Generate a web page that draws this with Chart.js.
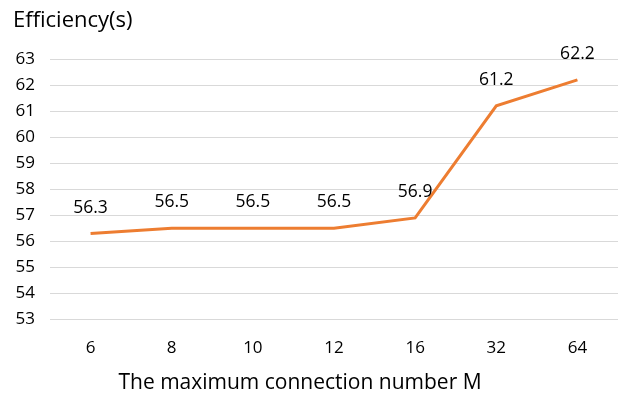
<!DOCTYPE html>
<html><head><meta charset="utf-8">
<script src="https://cdn.jsdelivr.net/npm/chart.js@4/dist/chart.umd.min.js"></script>
<style>html,body{margin:0;padding:0;background:#fff}#wrap{width:624px;height:397px}</style>
</head><body><div id="wrap"><canvas id="c" width="624" height="397"></canvas></div>
<script>
const categories = ['6','8','10','12','16','32','64'];
const efficiency = [56.3, 56.5, 56.5, 56.5, 56.9, 61.2, 62.2];
const yTitle = 'Efficiency(s)';
const xTitle = 'The maximum connection number M';
const FONT = '"Open Sans", Lato, sans-serif';

const labelsPlugin = {
  id: 'labelsPlugin',
  afterDatasetsDraw(chart) {
    const ctx = chart.ctx;
    const meta = chart.getDatasetMeta(0);
    ctx.save();
    ctx.fillStyle = '#000';
    ctx.font = '17.5px ' + FONT;
    ctx.textAlign = 'center';
    ctx.textBaseline = 'middle';
    meta.data.forEach((pt, i) => {
      ctx.fillText(efficiency[i].toFixed(1), pt.x, pt.y - 26);
    });
    ctx.restore();
  },
  afterDraw(chart) {
    const ctx = chart.ctx;
    ctx.save();
    ctx.fillStyle = '#000';
    ctx.textBaseline = 'alphabetic';
    ctx.font = '22px ' + FONT;
    ctx.textAlign = 'left';
    ctx.fillText(yTitle, 13, 27);
    ctx.font = '21px ' + FONT;
    ctx.textAlign = 'center';
    ctx.fillText(xTitle, 300, 389);
    ctx.restore();
  }
};

new Chart(document.getElementById('c'), {
  type: 'line',
  data: {
    labels: categories,
    datasets: [{
      data: efficiency,
      borderColor: '#ED7D31',
      borderWidth: 3,
      pointRadius: 0,
      pointHoverRadius: 0,
      tension: 0,
      fill: false,
      borderCapStyle: 'butt',
      borderJoinStyle: 'miter'
    }]
  },
  options: {
    responsive: false,
    animation: false,
    events: [],
    layout: { padding: { top: 59, right: 6, left: 0, bottom: 0 } },
    plugins: { legend: { display: false }, tooltip: { enabled: false } },
    scales: {
      x: {
        offset: true,
        grid: { display: false, drawTicks: false },
        border: { display: false },
        ticks: { color: '#000', font: { family: FONT, size: 17 }, padding: 18, maxRotation: 0 },
        afterFit(scale) { scale.height = 77.5; }
      },
      y: {
        min: 53, max: 63,
        grid: { color: '#d9d9d9', lineWidth: 1, drawTicks: false },
        border: { display: false },
        ticks: { stepSize: 1, color: '#000', font: { family: FONT, size: 17 }, padding: 15 },
        afterFit(scale) { scale.width = 50; }
      }
    }
  },
  plugins: [labelsPlugin]
});
</script>
</body></html>
